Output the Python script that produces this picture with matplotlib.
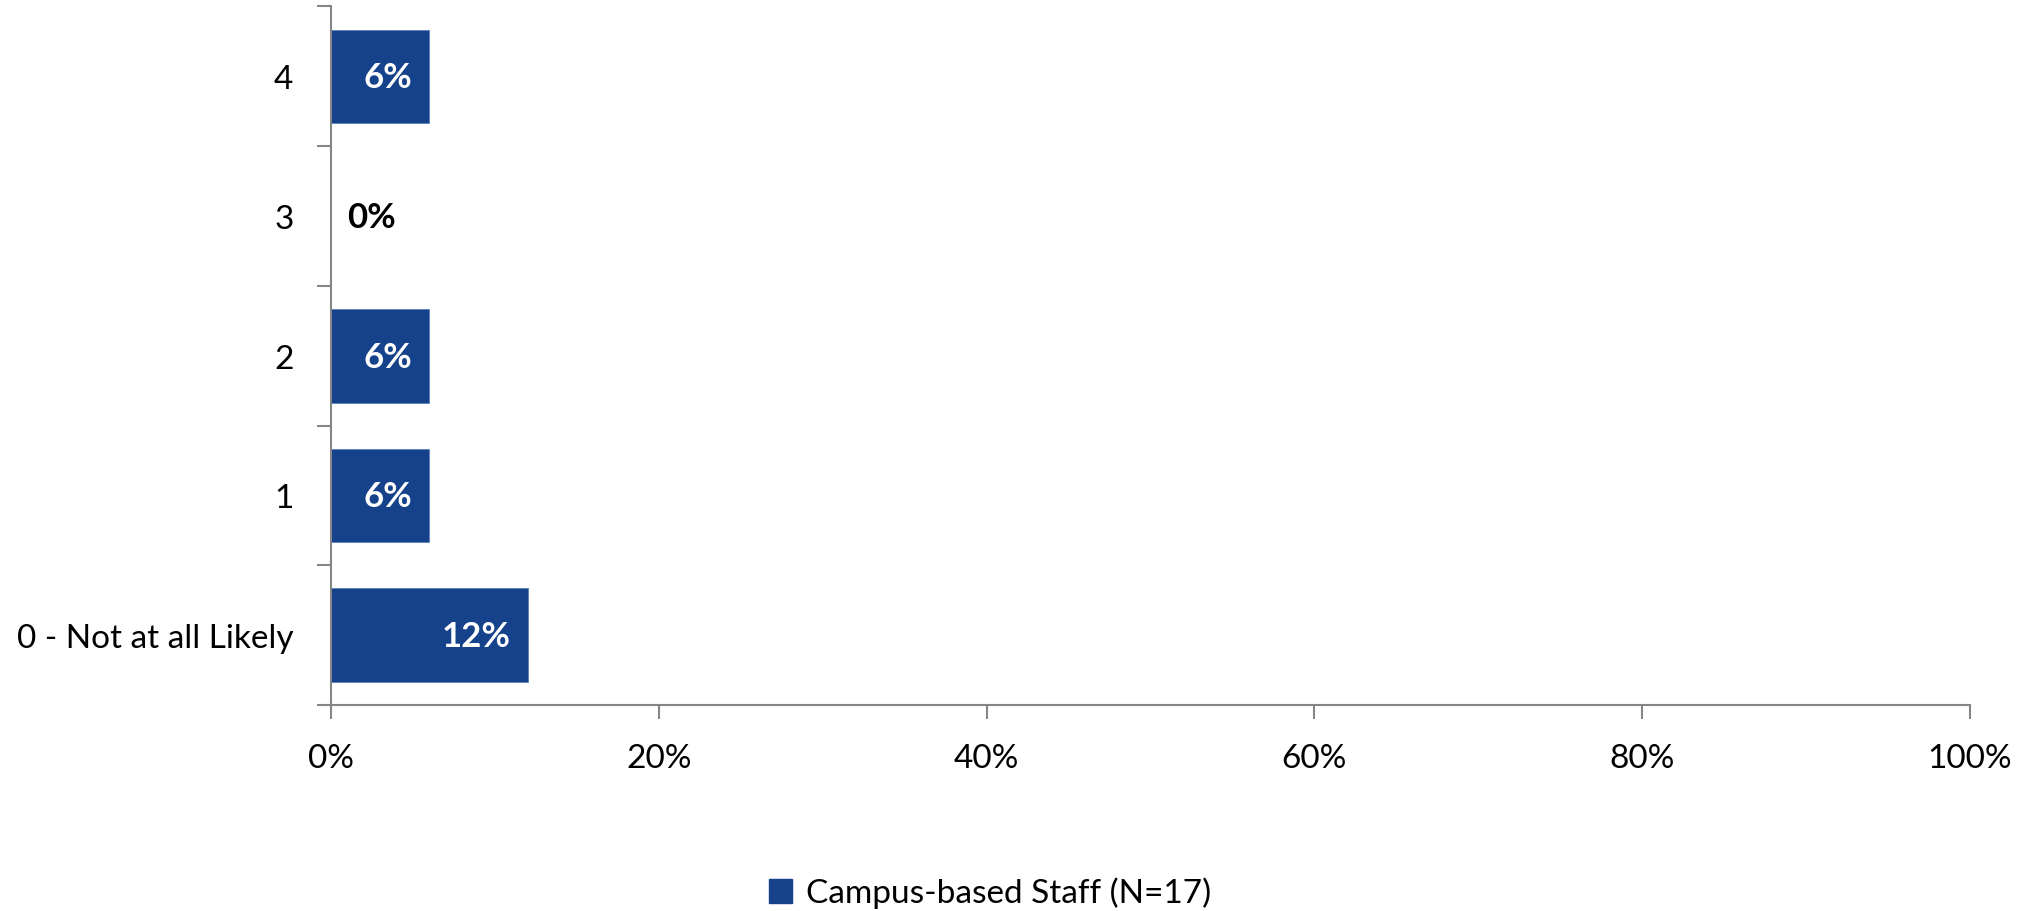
import matplotlib
matplotlib.use("Agg")
import matplotlib.pyplot as plt
import matplotlib.transforms as mtransforms
from matplotlib.ticker import FuncFormatter, FixedLocator
from matplotlib.patches import Patch

categories = ["0 - Not at all Likely", "1", "2", "3", "4"]
values = [12, 6, 6, 0, 6]
series_name = "Campus-based Staff (N=17)"
x_ticks = [0, 20, 40, 60, 80, 100]

plt.rcParams['font.family'] = ['Lato', 'DejaVu Sans']
BAR = "#15428A"
AXC = "#868686"

fig = plt.figure(figsize=(20.35, 9.11), dpi=100)
ax = fig.add_axes([331/2035, 1-705/911, (1970-331)/2035, (705-6.5)/911])

ypos = list(range(len(categories)))
ax.barh(ypos, values, height=0.67, color=BAR, edgecolor="#5a7fb8", linewidth=0.6)

ax.set_xlim(0, 100)
ax.set_ylim(-0.5, len(categories) - 0.5)

ax.xaxis.set_major_locator(FixedLocator(x_ticks))
ax.xaxis.set_major_formatter(FuncFormatter(lambda v, p: f"{v:.0f}%"))
ax.set_yticks(ypos)
ax.set_yticklabels(categories, va="center")
ax.set_yticks([y - 0.5 for y in ypos] + [len(categories) - 0.5], minor=True)
ax.tick_params(axis='y', which='major', length=0, pad=27, labelsize=24)
ax.tick_params(axis='y', which='minor', length=10, color=AXC, width=1.5, direction='out')
ax.tick_params(axis='x', which='major', length=10, color=AXC, width=1.5, direction='out',
               pad=18, labelsize=24)

shift = mtransforms.ScaledTranslation(0, -4/100, fig.dpi_scale_trans)
for lbl in ax.get_yticklabels():
    lbl.set_transform(lbl.get_transform() + shift)

for s in ["top", "right"]:
    ax.spines[s].set_visible(False)
for s in ["left", "bottom"]:
    ax.spines[s].set_color(AXC)
    ax.spines[s].set_linewidth(1.5)

for y, v in zip(ypos, values):
    if v > 0:
        ax.annotate(f"{v}%", xy=(v, y), xytext=(-17, -2), textcoords="offset pixels",
                    ha="right", va="center", color="white", fontsize=25, fontweight="bold")
    else:
        ax.annotate(f"{v}%", xy=(v, y), xytext=(16, -2), textcoords="offset pixels",
                    ha="left", va="center", color="black", fontsize=25, fontweight="bold")

handles = [Patch(facecolor=BAR, edgecolor=BAR, label=series_name)]
fig.legend(handles=handles, loc="center", bbox_to_anchor=(990/2035, 1-893/911),
           frameon=False, fontsize=24, handlelength=0.7, handleheight=0.7, handletextpad=0.4)

fig.savefig("out.png", dpi=100, facecolor="white")
